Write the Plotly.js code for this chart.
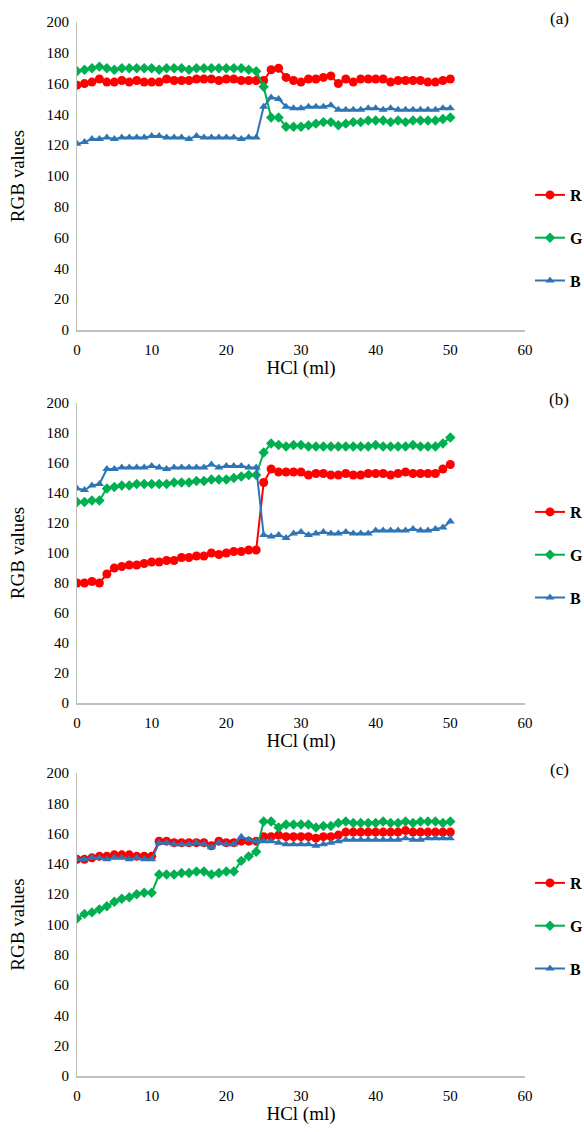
<!DOCTYPE html>
<html>
<head>
<meta charset="utf-8">
<script src="https://cdn.plot.ly/plotly-3.0.1.min.js"></script>
<style>html,body{margin:0;padding:0;background:#fff;}#chart{width:584px;height:1132px;}</style>
</head>
<body>
<div id="chart"></div>
<script>
const hcl = [0,1,2,3,4,5,6,7,8,9,10,11,12,13,14,15,16,17,18,19,20,21,22,23,24,25,26,27,28,29,30,31,32,33,34,35,36,37,38,39,40,41,42,43,44,45,46,47,48,49,50];

const rA = [159,160,161,163,161,161,162,161,162,161,161,161,163,162,162,162,163,163,163,162,163,163,162,162,162,
            162,169,170,164,162,161,163,163,164,165,160,163,161,163,163,163,163,161,162,162,162,162,161,161,162,163];
const gA = [168,169,170,171,170,169,170,170,170,170,170,169,170,170,170,169,170,170,170,170,170,170,170,169,168,
            158,138,138,132,132,132,133,134,135,135,133,134,135,135,136,136,136,135,136,135,136,136,136,136,137,138];
const bA = [121,122,124,124,125,124,125,125,125,125,126,126,125,125,125,124,126,125,125,125,125,125,124,125,125,
            145,151,150,145,144,144,145,145,145,146,143,143,143,143,144,144,143,144,143,143,143,143,143,143,144,144];

const rB = [80,80,81,80,86,90,91,92,92,93,94,94,95,95,97,97,98,98,100,99,100,101,101,102,102,
            147,156,154,154,154,154,152,153,153,152,152,153,152,152,153,153,153,152,153,154,153,153,153,153,156,159];
const gB = [134,134,135,135,143,144,145,145,146,146,146,146,146,147,147,147,148,148,149,149,149,150,151,152,152,
            167,173,172,171,172,172,171,171,171,171,171,171,171,171,171,172,171,171,171,171,172,171,171,171,173,177];
const bB = [143,142,145,146,156,156,157,157,157,157,158,157,156,157,157,157,157,157,159,157,158,158,158,157,157,
            112,111,112,110,113,114,112,113,114,113,113,114,113,113,113,115,115,115,115,115,116,115,115,116,117,121];

const rC = [143,143,144,145,145,146,146,146,145,145,145,155,155,154,154,154,154,154,152,155,154,154,155,155,155,
            158,158,159,158,158,158,158,157,158,158,159,161,161,161,161,161,161,161,161,162,161,161,161,161,161,161];
const gC = [104,107,108,110,112,115,117,118,120,121,121,133,133,133,134,134,135,135,133,134,135,135,142,145,148,
            168,168,164,166,166,166,166,164,165,165,167,168,167,167,167,167,168,167,167,168,167,168,168,168,167,168];
const bC = [143,143,144,144,143,144,144,143,144,143,143,154,154,153,153,153,154,153,151,154,153,153,158,156,155,
            155,155,154,153,153,153,153,152,153,154,155,156,156,156,156,156,156,156,156,157,156,156,157,157,157,157];

const seriesNames = ['R','G','B'];
const panelLabels = ['(a)','(b)','(c)'];
const xTicks = [0,10,20,30,40,50,60];
const yTicks = [0,20,40,60,80,100,120,140,160,180,200];

const colors = ['#FF0000','#00B050','#2E75B6'];
const symbols = ['circle','diamond','triangle-up'];
const sizes = [9,8,8];

const panels = [[rA,gA,bA],[rB,gB,bB],[rC,gC,bC]];
const W = 584, H = 1132;
const pTop = [22, 403, 773];
const pBot = [330, 703, 1076];
const legMid = [238, 555, 926];
const xL = 77, xR = 525;

const FONT = 'Liberation Serif';
const traces = [];
const layout = {
  width: W, height: H,
  margin: {l:0, r:0, t:0, b:0, autoexpand: false},
  paper_bgcolor: '#fff', plot_bgcolor: '#fff',
  font: {family: FONT, color: '#000', size: 15},
  showlegend: true,
  annotations: []
};

panels.forEach((p, i) => {
  const n = i + 1;
  const sfx = (n === 1 ? '' : String(n));
  const lg = 'legend' + sfx;
  p.forEach((vals, k) => {
    traces.push({
      x: hcl, y: vals, name: seriesNames[k],
      type: 'scatter', mode: 'lines+markers',
      xaxis: 'x' + sfx, yaxis: 'y' + sfx,
      legend: lg, legendgroup: 'g' + n + k,
      line: {color: colors[k], width: 2},
      marker: {color: colors[k], symbol: symbols[k], size: sizes[k], line: {width: 0}}
    });
  });
  layout['xaxis' + sfx] = {
    domain: [xL / W, xR / W], anchor: 'y' + sfx,
    range: [0, 60], tickvals: xTicks, ticktext: xTicks.map(String),
    showgrid: false, zeroline: false, showline: true, linecolor: '#BFBFBF', linewidth: 1.5,
    ticks: 'outside', ticklen: 5, tickcolor: 'rgba(0,0,0,0)',
    tickfont: {family: FONT, size: 15, color: '#000'},
    title: {text: 'HCl (ml)', font: {family: FONT, size: 19, color: '#000'}, standoff: 0}
  };
  layout['yaxis' + sfx] = {
    domain: [1 - pBot[i] / H, 1 - pTop[i] / H], anchor: 'x' + sfx,
    range: [0, 200], tickvals: yTicks, ticktext: yTicks.map(String),
    showgrid: false, zeroline: false, showline: true, linecolor: '#BFBFBF', linewidth: 1,
    ticks: 'outside', ticklen: 4, tickcolor: 'rgba(0,0,0,0)',
    tickfont: {family: FONT, size: 15, color: '#000'},
    title: {text: 'RGB values', font: {family: FONT, size: 19, color: '#000'}, standoff: 16}
  };
  layout[lg] = {
    x: 530 / W, xanchor: 'left', y: 1 - legMid[i] / H, yanchor: 'middle',
    bgcolor: 'rgba(0,0,0,0)', borderwidth: 0,
    font: {family: FONT, size: 16, color: '#000', weight: 'bold'},
    tracegroupgap: 19, itemwidth: 30, traceorder: 'grouped'
  };
  layout.annotations.push({
    text: panelLabels[i], xref: 'paper', yref: 'paper',
    x: 571 / W, y: 1 - (pTop[i] - 4) / H, xanchor: 'right', yanchor: 'middle',
    showarrow: false, font: {family: FONT, size: 17, color: '#000'}
  });
});

Plotly.newPlot('chart', traces, layout, {displayModeBar: false, staticPlot: true});
</script>
</body>
</html>
